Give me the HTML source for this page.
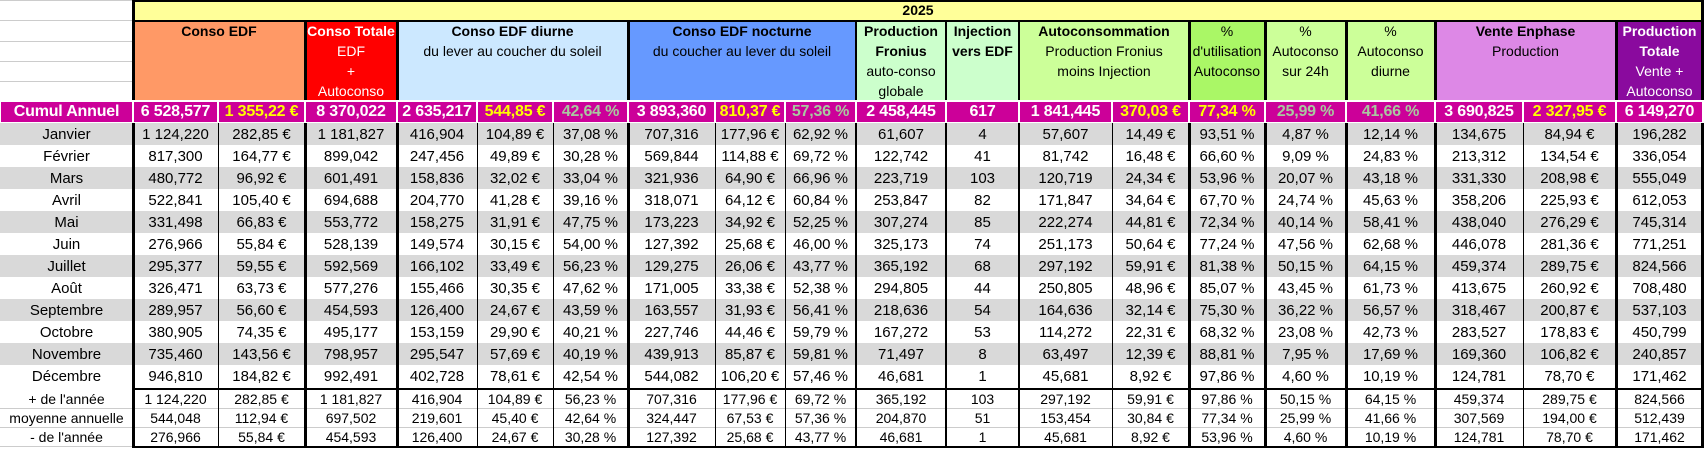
<!DOCTYPE html>
<html><head><meta charset="utf-8">
<style>
*{margin:0;padding:0;box-sizing:border-box}
body{width:1705px;height:450px;background:#fff;position:relative;overflow:hidden;font-family:"Liberation Sans",sans-serif;color:#000}
.a{position:absolute}
.h{position:absolute;top:20px;height:80px;text-align:center;font-size:14px;line-height:20px;padding-top:1px;overflow:hidden;white-space:nowrap}
.h b{display:block}
.h span{display:block}
table{position:absolute;left:0;top:100px;width:1703px;border-collapse:separate;border-spacing:0;table-layout:fixed}
td{text-align:center;white-space:nowrap;overflow:hidden;font-size:15px;padding:0}
tr.c td{background:#CC0099;color:#fff;font-weight:bold;font-size:16px;height:23px;box-shadow:inset 0 0 0 1px #fff;border-top:1px solid #fff;letter-spacing:-0.2px}
tr.d td{height:22px}
tr.g td{background:#D9D9D9}
tr.s td{height:19px;font-size:14px;border-bottom:1px solid #ccc}
tr.sp td{height:3px}
.y{color:#FFFF00!important}.k{color:#A9C8A0!important}
.v{position:absolute;background:#000}
</style></head><body>
<div class="a" style="left:0;top:0;width:133px;height:1px;background:#ccc"></div>
<div class="a" style="left:0;top:20px;width:133px;height:1px;background:#ccc"></div>
<div class="a" style="left:0;top:41px;width:133px;height:1px;background:#ccc"></div>
<div class="a" style="left:0;top:61px;width:133px;height:1px;background:#ccc"></div>
<div class="a" style="left:0;top:81px;width:133px;height:1px;background:#ccc"></div>
<div class="a" style="left:133px;top:0;width:1570px;height:21px;background:#FFFF99;text-align:center;font-weight:bold;font-size:14px;line-height:21px">2025</div>
<div class="h" style="left:133px;width:172px;background:#FF9966"><b>Conso EDF</b></div>
<div class="h" style="left:305px;width:92px;background:#FF0000;color:#fff"><b>Conso Totale</b><span>EDF</span><span>+</span><span>Autoconso</span></div>
<div class="h" style="left:397px;width:231px;background:#CCE8FF"><b>Conso EDF diurne</b><span>du lever au coucher du soleil</span></div>
<div class="h" style="left:628px;width:228px;background:#6699FF"><b>Conso EDF nocturne</b><span>du coucher au lever du soleil</span></div>
<div class="h" style="left:856px;width:90px;background:#CCFFCC"><b>Production</b><b>Fronius</b><span>auto-conso</span><span>globale</span></div>
<div class="h" style="left:946px;width:73px;background:#CCFFCC"><b>Injection</b><b>vers EDF</b></div>
<div class="h" style="left:1019px;width:170px;background:#CCFF99"><b>Autoconsommation</b><span>Production Fronius</span><span>moins Injection</span></div>
<div class="h" style="left:1189px;width:76px;background:#AAF766"><span>%</span><span>d'utilisation</span><span>Autoconso</span></div>
<div class="h" style="left:1265px;width:81px;background:#CCFF99"><span>%</span><span>Autoconso</span><span>sur 24h</span></div>
<div class="h" style="left:1346px;width:89px;background:#CCFF99"><span>%</span><span>Autoconso</span><span>diurne</span></div>
<div class="h" style="left:1435px;width:181px;background:#DD88E6"><b>Vente Enphase</b><span>Production</span></div>
<div class="h" style="left:1616px;width:87px;background:#8A0A9E;color:#fff"><b>Production</b><b>Totale</b><span>Vente +</span><span>Autoconso</span></div>

<table>
<colgroup><col style="width:133px"><col style="width:85px"><col style="width:87px"><col style="width:92px"><col style="width:80px"><col style="width:76px"><col style="width:75px"><col style="width:87px"><col style="width:70px"><col style="width:71px"><col style="width:90px"><col style="width:73px"><col style="width:93px"><col style="width:77px"><col style="width:76px"><col style="width:81px"><col style="width:89px"><col style="width:88px"><col style="width:93px"><col style="width:87px"></colgroup>
<tr class="c"><td>Cumul Annuel</td><td>6 528,577</td><td class="y">1 355,22 €</td><td>8 370,022</td><td>2 635,217</td><td class="y">544,85 €</td><td class="k">42,64 %</td><td>3 893,360</td><td class="y">810,37 €</td><td class="k">57,36 %</td><td>2 458,445</td><td>617</td><td>1 841,445</td><td class="y">370,03 €</td><td class="y">77,34 %</td><td class="k">25,99 %</td><td class="k">41,66 %</td><td>3 690,825</td><td class="y">2 327,95 €</td><td>6 149,270</td></tr>
<tr class="d g"><td>Janvier</td><td>1 124,220</td><td>282,85 €</td><td>1 181,827</td><td>416,904</td><td>104,89 €</td><td>37,08 %</td><td>707,316</td><td>177,96 €</td><td>62,92 %</td><td>61,607</td><td>4</td><td>57,607</td><td>14,49 €</td><td>93,51 %</td><td>4,87 %</td><td>12,14 %</td><td>134,675</td><td>84,94 €</td><td>196,282</td></tr>
<tr class="d"><td>Février</td><td>817,300</td><td>164,77 €</td><td>899,042</td><td>247,456</td><td>49,89 €</td><td>30,28 %</td><td>569,844</td><td>114,88 €</td><td>69,72 %</td><td>122,742</td><td>41</td><td>81,742</td><td>16,48 €</td><td>66,60 %</td><td>9,09 %</td><td>24,83 %</td><td>213,312</td><td>134,54 €</td><td>336,054</td></tr>
<tr class="d g"><td>Mars</td><td>480,772</td><td>96,92 €</td><td>601,491</td><td>158,836</td><td>32,02 €</td><td>33,04 %</td><td>321,936</td><td>64,90 €</td><td>66,96 %</td><td>223,719</td><td>103</td><td>120,719</td><td>24,34 €</td><td>53,96 %</td><td>20,07 %</td><td>43,18 %</td><td>331,330</td><td>208,98 €</td><td>555,049</td></tr>
<tr class="d"><td>Avril</td><td>522,841</td><td>105,40 €</td><td>694,688</td><td>204,770</td><td>41,28 €</td><td>39,16 %</td><td>318,071</td><td>64,12 €</td><td>60,84 %</td><td>253,847</td><td>82</td><td>171,847</td><td>34,64 €</td><td>67,70 %</td><td>24,74 %</td><td>45,63 %</td><td>358,206</td><td>225,93 €</td><td>612,053</td></tr>
<tr class="d g"><td>Mai</td><td>331,498</td><td>66,83 €</td><td>553,772</td><td>158,275</td><td>31,91 €</td><td>47,75 %</td><td>173,223</td><td>34,92 €</td><td>52,25 %</td><td>307,274</td><td>85</td><td>222,274</td><td>44,81 €</td><td>72,34 %</td><td>40,14 %</td><td>58,41 %</td><td>438,040</td><td>276,29 €</td><td>745,314</td></tr>
<tr class="d"><td>Juin</td><td>276,966</td><td>55,84 €</td><td>528,139</td><td>149,574</td><td>30,15 €</td><td>54,00 %</td><td>127,392</td><td>25,68 €</td><td>46,00 %</td><td>325,173</td><td>74</td><td>251,173</td><td>50,64 €</td><td>77,24 %</td><td>47,56 %</td><td>62,68 %</td><td>446,078</td><td>281,36 €</td><td>771,251</td></tr>
<tr class="d g"><td>Juillet</td><td>295,377</td><td>59,55 €</td><td>592,569</td><td>166,102</td><td>33,49 €</td><td>56,23 %</td><td>129,275</td><td>26,06 €</td><td>43,77 %</td><td>365,192</td><td>68</td><td>297,192</td><td>59,91 €</td><td>81,38 %</td><td>50,15 %</td><td>64,15 %</td><td>459,374</td><td>289,75 €</td><td>824,566</td></tr>
<tr class="d"><td>Août</td><td>326,471</td><td>63,73 €</td><td>577,276</td><td>155,466</td><td>30,35 €</td><td>47,62 %</td><td>171,005</td><td>33,38 €</td><td>52,38 %</td><td>294,805</td><td>44</td><td>250,805</td><td>48,96 €</td><td>85,07 %</td><td>43,45 %</td><td>61,73 %</td><td>413,675</td><td>260,92 €</td><td>708,480</td></tr>
<tr class="d g"><td>Septembre</td><td>289,957</td><td>56,60 €</td><td>454,593</td><td>126,400</td><td>24,67 €</td><td>43,59 %</td><td>163,557</td><td>31,93 €</td><td>56,41 %</td><td>218,636</td><td>54</td><td>164,636</td><td>32,14 €</td><td>75,30 %</td><td>36,22 %</td><td>56,57 %</td><td>318,467</td><td>200,87 €</td><td>537,103</td></tr>
<tr class="d"><td>Octobre</td><td>380,905</td><td>74,35 €</td><td>495,177</td><td>153,159</td><td>29,90 €</td><td>40,21 %</td><td>227,746</td><td>44,46 €</td><td>59,79 %</td><td>167,272</td><td>53</td><td>114,272</td><td>22,31 €</td><td>68,32 %</td><td>23,08 %</td><td>42,73 %</td><td>283,527</td><td>178,83 €</td><td>450,799</td></tr>
<tr class="d g"><td>Novembre</td><td>735,460</td><td>143,56 €</td><td>798,957</td><td>295,547</td><td>57,69 €</td><td>40,19 %</td><td>439,913</td><td>85,87 €</td><td>59,81 %</td><td>71,497</td><td>8</td><td>63,497</td><td>12,39 €</td><td>88,81 %</td><td>7,95 %</td><td>17,69 %</td><td>169,360</td><td>106,82 €</td><td>240,857</td></tr>
<tr class="d"><td>Décembre</td><td>946,810</td><td>184,82 €</td><td>992,491</td><td>402,728</td><td>78,61 €</td><td>42,54 %</td><td>544,082</td><td>106,20 €</td><td>57,46 %</td><td>46,681</td><td>1</td><td>45,681</td><td>8,92 €</td><td>97,86 %</td><td>4,60 %</td><td>10,19 %</td><td>124,781</td><td>78,70 €</td><td>171,462</td></tr>
<tr class="sp"><td colspan="20"></td></tr>
<tr class="s"><td>+ de l'année</td><td>1 124,220</td><td>282,85 €</td><td>1 181,827</td><td>416,904</td><td>104,89 €</td><td>56,23 %</td><td>707,316</td><td>177,96 €</td><td>69,72 %</td><td>365,192</td><td>103</td><td>297,192</td><td>59,91 €</td><td>97,86 %</td><td>50,15 %</td><td>64,15 %</td><td>459,374</td><td>289,75 €</td><td>824,566</td></tr>
<tr class="s"><td>moyenne annuelle</td><td>544,048</td><td>112,94 €</td><td>697,502</td><td>219,601</td><td>45,40 €</td><td>42,64 %</td><td>324,447</td><td>67,53 €</td><td>57,36 %</td><td>204,870</td><td>51</td><td>153,454</td><td>30,84 €</td><td>77,34 %</td><td>25,99 %</td><td>41,66 %</td><td>307,569</td><td>194,00 €</td><td>512,439</td></tr>
<tr class="s"><td>- de l'année</td><td>276,966</td><td>55,84 €</td><td>454,593</td><td>126,400</td><td>24,67 €</td><td>30,28 %</td><td>127,392</td><td>25,68 €</td><td>43,77 %</td><td>46,681</td><td>1</td><td>45,681</td><td>8,92 €</td><td>53,96 %</td><td>4,60 %</td><td>10,19 %</td><td>124,781</td><td>78,70 €</td><td>171,462</td></tr>
</table>

<div class="v" style="left:132px;top:0;width:1572px;height:2px"></div>
<div class="v" style="left:132px;top:20px;width:1572px;height:2px"></div>
<div class="v" style="left:132px;top:388px;width:1572px;height:2px"></div>
<div class="v" style="left:132px;top:446px;width:1572px;height:2px"></div>
<div class="v" style="left:132px;top:0;width:3px;height:100px"></div>
<div class="v" style="left:304px;top:20px;width:3px;height:80px"></div>
<div class="v" style="left:396px;top:20px;width:3px;height:80px"></div>
<div class="v" style="left:627px;top:20px;width:3px;height:80px"></div>
<div class="v" style="left:855px;top:20px;width:2px;height:80px"></div>
<div class="v" style="left:945px;top:20px;width:2px;height:80px"></div>
<div class="v" style="left:1018px;top:20px;width:2px;height:80px"></div>
<div class="v" style="left:1188px;top:20px;width:3px;height:80px"></div>
<div class="v" style="left:1264px;top:20px;width:3px;height:80px"></div>
<div class="v" style="left:1345px;top:20px;width:3px;height:80px"></div>
<div class="v" style="left:1434px;top:20px;width:3px;height:80px"></div>
<div class="v" style="left:1615px;top:20px;width:3px;height:80px"></div>
<div class="v" style="left:1701px;top:0;width:3px;height:100px"></div>
<div class="v" style="left:132px;top:123px;width:3px;height:325px"></div>
<div class="v" style="left:304px;top:123px;width:3px;height:325px"></div>
<div class="v" style="left:396px;top:123px;width:3px;height:325px"></div>
<div class="v" style="left:627px;top:123px;width:3px;height:325px"></div>
<div class="v" style="left:855px;top:123px;width:2px;height:325px"></div>
<div class="v" style="left:945px;top:123px;width:2px;height:325px"></div>
<div class="v" style="left:1018px;top:123px;width:2px;height:325px"></div>
<div class="v" style="left:1188px;top:123px;width:3px;height:325px"></div>
<div class="v" style="left:1264px;top:123px;width:3px;height:325px"></div>
<div class="v" style="left:1345px;top:123px;width:3px;height:325px"></div>
<div class="v" style="left:1434px;top:123px;width:3px;height:325px"></div>
<div class="v" style="left:1615px;top:123px;width:3px;height:325px"></div>
<div class="v" style="left:1701px;top:123px;width:3px;height:325px"></div>
<div class="v" style="left:218px;top:123px;width:1px;height:325px"></div>
<div class="v" style="left:477px;top:123px;width:1px;height:325px"></div>
<div class="v" style="left:553px;top:123px;width:1px;height:325px"></div>
<div class="v" style="left:715px;top:123px;width:1px;height:325px"></div>
<div class="v" style="left:785px;top:123px;width:1px;height:325px"></div>
<div class="v" style="left:1112px;top:123px;width:1px;height:325px"></div>
<div class="v" style="left:1523px;top:123px;width:1px;height:325px"></div>
</body></html>
